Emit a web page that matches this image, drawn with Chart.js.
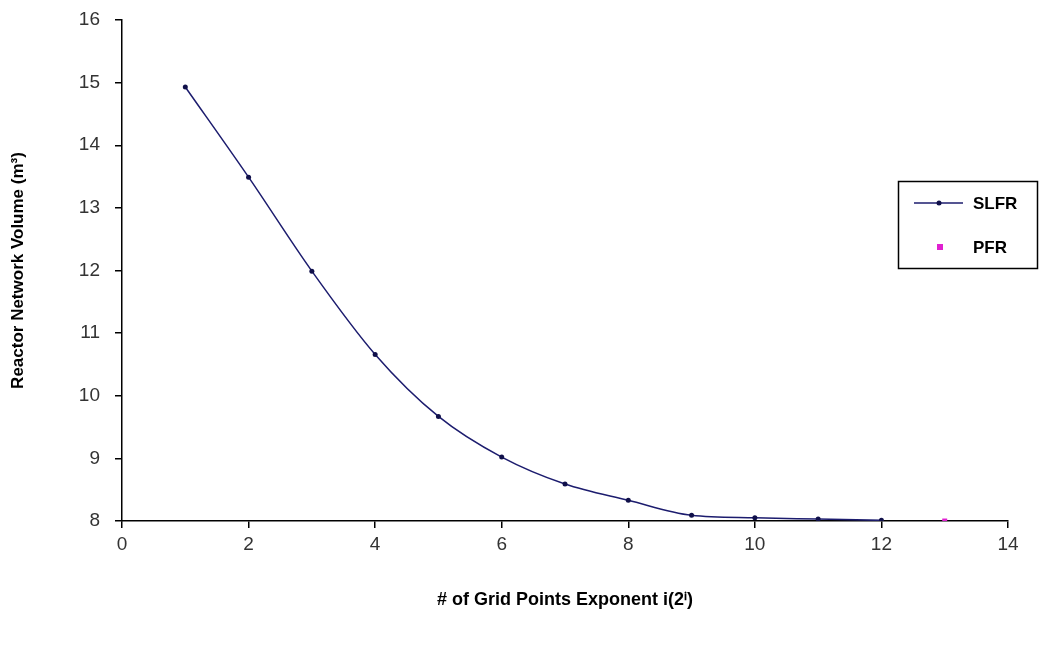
<!DOCTYPE html>
<html>
<head>
<meta charset="utf-8">
<script src="https://cdn.jsdelivr.net/npm/chart.js@4/dist/chart.umd.min.js"></script>
<style>
  html, body { margin: 0; padding: 0; background: #fff; }
  #wrap { width: 1042px; height: 647px; }
</style>
</head>
<body>
<div id="wrap"><canvas id="chart" width="1042" height="647"></canvas></div>
<script>
// dados
const expoentes = [1, 2, 3, 4, 5, 6, 7, 8, 9, 10, 11, 12];
const volumeSLFR = [14.93, 13.49, 11.99, 10.66, 9.67, 9.02, 8.59, 8.33, 8.09, 8.05, 8.03, 8.01];
const expoentePFR = [13];
const volumePFR = [8.0];
const xTicks = [0, 2, 4, 6, 8, 10, 12, 14];
const yTicks = [8, 9, 10, 11, 12, 13, 14, 15, 16];

const fonte = "'Liberation Sans', Arial, sans-serif";

// legenda desenhada à mão (caixa com borda, à direita)
const legendaBox = {
  id: 'legendaBox',
  afterDraw(chart) {
    const ctx = chart.ctx;
    const ds = chart.data.datasets;
    ctx.save();
    ctx.strokeStyle = '#000';
    ctx.lineWidth = 1.5;
    ctx.strokeRect(898.5, 181.5, 139, 87);
    // SLFR
    ctx.strokeStyle = ds[0].borderColor;
    ctx.lineWidth = 1.5;
    ctx.beginPath();
    ctx.moveTo(914, 203);
    ctx.lineTo(963, 203);
    ctx.stroke();
    ctx.fillStyle = ds[0].pointBackgroundColor;
    ctx.beginPath();
    ctx.arc(939, 203, 2.5, 0, Math.PI * 2);
    ctx.fill();
    // PFR
    ctx.fillStyle = ds[1].pointBackgroundColor;
    ctx.fillRect(937, 244, 6, 6);
    ctx.fillStyle = '#000';
    ctx.font = 'bold 17px ' + fonte;
    ctx.textBaseline = 'middle';
    ctx.fillText(ds[0].label, 973, 204);
    ctx.fillText(ds[1].label, 973, 248);
    ctx.restore();
  }
};

new Chart(document.getElementById('chart').getContext('2d'), {
  type: 'scatter',
  data: {
    datasets: [
      {
        label: 'SLFR',
        data: expoentes.map((x, i) => ({x: x, y: volumeSLFR[i]})),
        showLine: true,
        borderColor: '#1c1c6e',
        borderWidth: 1.5,
        pointBackgroundColor: '#10104a',
        pointBorderWidth: 0,
        pointRadius: 2.5,
        cubicInterpolationMode: 'monotone'
      },
      {
        label: 'PFR',
        data: expoentePFR.map((x, i) => ({x: x, y: volumePFR[i]})),
        showLine: false,
        pointStyle: 'rect',
        pointBackgroundColor: '#e020d0',
        pointBorderWidth: 0,
        pointRadius: 3.5
      }
    ]
  },
  options: {
    responsive: false,
    animation: false,
    layout: { padding: { top: 20, right: 34, left: 0, bottom: 0 } },
    plugins: { legend: { display: false }, tooltip: { enabled: false } },
    scales: {
      x: {
        type: 'linear',
        min: 0, max: 14,
        afterBuildTicks: s => { s.ticks = xTicks.map(v => ({value: v})); },
        afterFit: s => { s.height = 126; s.paddingLeft = 0; s.paddingRight = 0; },
        border: { display: true, color: '#000', width: 1.5 },
        grid: { drawOnChartArea: false, drawTicks: true, tickLength: 7, color: '#000', lineWidth: 1.5 },
        ticks: { color: '#333', padding: 5, font: { family: fonte, size: 19 } },
        title: {
          display: true,
          text: '# of Grid Points Exponent i(2\u2071)',
          color: '#000',
          font: { family: fonte, size: 18, weight: 'bold' },
          padding: { top: 0, bottom: 36 }
        }
      },
      y: {
        type: 'linear',
        min: 8, max: 16,
        afterBuildTicks: s => { s.ticks = yTicks.map(v => ({value: v})); },
        afterFit: s => { s.width = 122; s.paddingTop = 0; s.paddingBottom = 0; },
        border: { display: true, color: '#000', width: 1.5 },
        grid: { drawOnChartArea: false, drawTicks: true, tickLength: 7, color: '#000', lineWidth: 1.5 },
        ticks: { color: '#333', padding: 15, font: { family: fonte, size: 19 } },
        title: {
          display: true,
          text: 'Reactor Network Volume (m\u00b3)',
          color: '#000',
          font: { family: fonte, size: 17, weight: 'bold' },
          padding: { top: 8, bottom: 0 }
        }
      }
    }
  },
  plugins: [legendaBox]
});
</script>
</body>
</html>
